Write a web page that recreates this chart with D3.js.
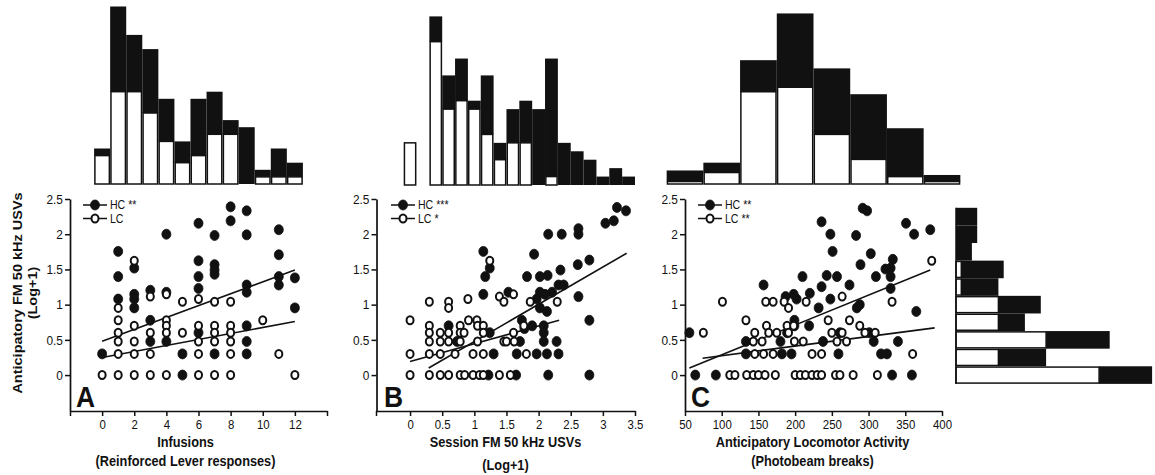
<!DOCTYPE html>
<html><head><meta charset="utf-8">
<script src="https://cdn.jsdelivr.net/npm/d3@7"></script>
<style>body{margin:0;background:#fff}svg{display:block}</style>
</head><body><svg id="c" width="1155" height="475"></svg>
<script>
// ---------------- DATA ----------------
const yTickValues = [0, 0.5, 1, 1.5, 2, 2.5];
const yTitle = ["Anticipatory FM 50 kHz USVs", "(Log+1)"];

const infusionTicks = [-2, 0, 2, 4, 6, 8, 10, 12, 14];
const sessionTicks = [-0.53, 0, 0.5, 1, 1.5, 2, 2.5, 3, 3.5];
const locomotorTicks = [50, 100, 150, 200, 250, 300, 350, 400];

// Panel A: Infusions vs anticipatory USVs
const A_HC = [[0,0.301],[1,1.756],[1,1.398],[1,1.079],[2,1.519],[2,1.146],[2,1.079],[2,0.954],
  [3,1.204],[3,0.778],[3,0.477],[4,2.0],[4,1.176],[4,0.477],[5,0.301],[5,0],
  [6,2.155],[6,1.623],[6,1.398],[6,1.230],[6,0.602],[7,1.982],[7,1.568],[7,1.491],[7,1.431],[7,0.301],
  [8,2.389],[8,2.190],[9,2.332],[9,1.991],[9,1.279],[9,1.176],[9,0.699],[9,0.477],[9,0.301],
  [11,2.064],[11,1.708],[11,1.398],[11,1.279],[12,1.380],[12,0.954]];
const A_LC = [[0,0],[1,0.954],[1,0.778],[1,0.602],[1,0.477],[1,0.301],[1,0],
  [2,1.623],[2,0.699],[2,0.477],[2,0.301],[2,0],[3,1.114],[3,0.602],[3,0.301],[3,0],
  [4,1.146],[4,0.778],[4,0.699],[4,0.602],[4,0],[5,1.041],[5,0.602],
  [6,1.079],[6,0.699],[6,0.477],[6,0.301],[6,0],[7,1.041],[7,0.699],[7,0.602],[7,0.477],[7,0],
  [8,1.041],[8,0.699],[8,0.602],[8,0.477],[8,0.301],[8,0],[10,0.778],[11,0.301],[12,0]];
const A_fitHC = [0.48, 0.0842, 0, 12];   // intercept, slope, xmin, xmax
const A_fitLC = [0.25, 0.0425, 0, 12];
const A_legend = ["HC **", "LC"];
const A_titles = ["Infusions", "(Reinforced Lever responses)"];

// Panel B: Session USVs vs anticipatory USVs
const B_HC = [[0.60,0.699],[0.73,0.477],[1.22,0],[1.14,1.756],[1.17,1.398],[1.24,1.519],[1.14,1.146],[1.24,0.602],[1.30,0.301],
  [1.53,1.176],[1.65,0],[1.66,0.301],[1.71,0.477],[1.74,0.778],[1.78,0.660],[1.82,1.398],[1.90,0.699],[1.93,1.716],
  [1.97,0.301],[1.97,1.079],[2.02,1.398],[2.02,1.176],[2.02,0.954],[2.08,0.699],[2.08,0.602],[2.08,0.477],[2.13,0.301],
  [2.10,1.146],[2.13,0.903],[2.14,1.415],[2.15,2.0],[2.15,0],[2.21,1.176],[2.28,0.477],[2.31,0.301],[2.31,1.279],
  [2.36,2.0],[2.39,1.279],[2.34,1.491],[2.62,2.079],[2.62,2.0],[2.61,1.568],[2.62,1.114],[2.79,0.778],[2.79,0],[2.79,1.633],
  [3.04,2.155],[3.17,2.190],[3.22,2.380],[3.36,2.332]];
const B_LC = [[0,0.778],[0,0.301],[0,0],[0.30,1.041],[0.30,0.699],[0.30,0.602],[0.30,0.477],[0.30,0.301],[0.30,0],
  [0.47,0.602],[0.47,0.477],[0.47,0.301],[0.47,0],[0.60,1.041],[0.60,0.954],[0.60,0.602],[0.60,0.477],[0.60,0],
  [0.70,0.301],[0.78,0.699],[0.78,0.602],[0.78,0.477],[0.78,0],[0.84,0.602],[0.85,0],[0.90,1.079],[0.91,0.778],[1.04,0.778],
  [0.98,0.301],[0.98,0],[1.05,0.699],[1.05,0.477],[1.08,0],[1.14,0.699],[1.14,0.602],[1.14,0.301],[1.14,0],
  [1.24,1.623],[1.39,1.114],[1.39,0],[1.46,1.041],[1.46,0.477],[1.50,0.477],[1.56,0],
  [1.61,1.146],[1.61,0.602],[1.62,0.477],[1.77,0.699],[1.81,0.301],[1.87,1.041],[2.29,1.041]];
const B_fitHC = [-0.053, 0.529, 0.29, 3.37];
const B_fitLC = [0.1925, 0.253, 0, 2.32];
const B_legend = ["HC ***", "LC *"];
const B_titles = ["Session FM 50 kHz USVs", "(Log+1)"];

// Panel C: Locomotor activity vs anticipatory USVs
const C_HC = [[56,0.602],[64,0],[92,0],[133,0.301],[133,0.477],[157,1.279],
  [180,0.477],[182,0.301],[187,1.114],[189,0.602],[195,0.301],[198,1.146],[199,0.778],[202,1.079],[199,0.699],
  [210,1.398],[220,1.161],[219,0.699],[232,0.954],[236,1.255],[236,2.176],[238,0.477],[248,2.0],[251,1.756],
  [243,1.415],[257,1.398],[248,1.079],[259,0.301],[261,0.602],[274,1.279],[283,1.982],[289,1.568],[284,0.954],[288,1.0],
  [292,2.369],[298,2.332],[303,1.724],[310,1.398],[307,0.477],[301,0.602],[317,0.301],[325,0.301],
  [323,1.505],[330,1.230],[333,1.643],[330,1.519],[330,1.398],[340,0.477],[332,0],[359,0],
  [351,2.155],[362,2.0],[384,2.064],[365,0.903]];
const C_LC = [[75,0.602],[101,1.041],[111,0],[118,0],[134,0],[143,0],[150,0],[159,0],[173,0],
  [133,0.778],[145,0.602],[143,0.477],[145,0.301],[155,0.477],[157,0.301],[160,1.041],[161,0.699],[164,0.602],
  [170,1.041],[170,0.301],[175,0.602],[185,1.041],[191,0.954],[189,0.699],[198,0.699],[199,0.477],[191,0.602],
  [211,0.477],[215,1.041],[223,0.301],[236,0.301],[200,0],[207,0],[214,0],[223,0],[230,0],[236,0],[255,0],[261,0],[279,0],[312,0],
  [245,0.778],[250,0.602],[257,0.477],[264,0.602],[264,1.114],[270,0.477],[274,0.778],[288,0.699],[295,0.602],[309,0.602],
  [332,1.041],[360,0.301],[386,1.623]];
const C_fitHC = [-0.137, 0.004238, 56, 384];
const C_fitLC = [0.1393, 0.001361, 74, 390];
const C_legend = ["HC **", "LC **"];
const C_titles = ["Anticipatory Locomotor Activity", "(Photobeam breaks)"];

// Marginal histograms (counts; LC stacked under HC)
const histA_bins = [0,1,2,3,4,5,6,7,8,9,10,11,12];
const histA_LC = [4,13,13,10,6,3,4,7,7,0,1,1,1];
const histA_HC = [1,12,8,9,6,3,8,6,2,8,1,4,2];

const histB_bins = [0,0.2,0.4,0.6,0.8,1.0,1.2,1.4,1.6,1.8,2.0,2.2,2.4,2.6,2.8,3.0,3.2,3.4];
const histB_LC = [5,0,17,9,10,9,6,3,5,5,0,1,0,0,0,0,0,0];
const histB_HC = [0,0,3,4,5,1,7,2,4,5,9,14,5,4,3,1,2,1];

const histC_bins = [50,100,150,200,250,300,350,400];
const histC_LC = [0.6,2.8,22.5,23.6,12.1,6.0,1.8,0.6];
const histC_HC = [2.7,2.4,7.7,18.0,16.1,15.9,11.8,1.6];

const histY_bins = [0,0.25,0.5,0.75,1.0,1.25,1.5,1.75,2.0,2.25];
const histY_LC = [27,8,17,8,8,1,1,0,0,0];
const histY_HC = [10,9,12,5,8,7,8,3,4,4];

// ---------------- DRAWING ----------------
const SX = 0.88;
const INK = "#111";
const FONT = "'Liberation Sans', Arial, Helvetica, sans-serif";
const svg = d3.select("#c");
const y = d3.scaleLinear().domain([-0.51, 2.5]).range([411, 199]);

function label(g, x, yy, str, size, weight, anchor, rot) {
  return g.append("text")
    .attr("transform", `translate(${x},${yy}) scale(${SX},1)` + (rot ? ` rotate(${rot})` : ""))
    .attr("font-family", FONT).attr("font-size", size).attr("font-weight", weight || "normal")
    .attr("text-anchor", anchor || "start").attr("fill", INK).text(str);
}

function dot(g, cx, cy, filled) {
  if (filled) {
    g.append("ellipse").attr("cx", cx).attr("cy", cy).attr("rx", 4.5).attr("ry", 5.0)
      .attr("fill", INK).attr("stroke", INK).attr("stroke-width", 0.8);
  } else {
    g.append("ellipse").attr("cx", cx).attr("cy", cy).attr("rx", 3.5).attr("ry", 4.0)
      .attr("fill", "#fff").attr("stroke", INK).attr("stroke-width", 2.0);
  }
}

function topHist(x, bins, width, lc, hc, base, unit) {
  const g = svg.append("g");
  bins.forEach((b, i) => {
    const x0 = x(b - width / 2), x1 = x(b + width / 2);
    const lh = lc[i] * unit, hh = hc[i] * unit;
    if (hh > 0) g.append("rect").attr("x", x0).attr("y", base - lh - hh).attr("width", x1 - x0).attr("height", hh)
      .attr("fill", INK);
    if (lh > 0) g.append("rect").attr("x", x0 + 0.8).attr("y", base - lh).attr("width", x1 - x0 - 1.6).attr("height", lh)
      .attr("fill", "#fff").attr("stroke", INK).attr("stroke-width", 1.5);
  });
}

function drawPanel(p) {
  const x = d3.scaleLinear().domain(p.xDomain).range(p.xRange);
  const g = svg.append("g");

  // regression lines
  [p.fitHC, p.fitLC].forEach(f => {
    g.append("line").attr("x1", x(f[2])).attr("y1", y(f[0] + f[1] * f[2]))
      .attr("x2", x(f[3])).attr("y2", y(f[0] + f[1] * f[3]))
      .attr("stroke", INK).attr("stroke-width", 1.6);
  });
  // points: HC then LC
  p.hc.forEach(d => dot(g, x(d[0]), y(d[1]), true));
  p.lc.forEach(d => dot(g, x(d[0]), y(d[1]), false));

  // axes
  const ya = g.append("g").attr("transform", `translate(${p.yAxisX},0)`)
    .call(d3.axisLeft(y).tickValues(yTickValues).tickFormat(d3.format("~g")).tickSize(5).tickSizeOuter(0).tickPadding(3));
  const xa = g.append("g").attr("transform", `translate(0,411)`)
    .call(d3.axisBottom(x).tickValues(p.ticks).tickFormat(d => p.hide.includes(d) ? "" : d3.format("~g")(d))
      .tickSize(5).tickSizeOuter(0).tickPadding(4));
  [ya, xa].forEach(a => {
    a.select(".domain").attr("stroke", INK).attr("stroke-width", 1.7);
    a.selectAll(".tick line").attr("stroke", INK).attr("stroke-width", 1.5);
    a.selectAll(".tick text").attr("font-family", FONT).attr("fill", INK);
  });
  ya.selectAll(".tick text").attr("font-size", 13.5).attr("transform", `scale(${SX},1)`);
  xa.selectAll(".tick text").attr("font-size", 13).attr("transform", `scale(${SX},1)`);

  // legend
  const lx = p.legendX;
  [[p.legend[0], 205, true], [p.legend[1], 218.5, false]].forEach(([t, ly, f]) => {
    g.append("line").attr("x1", lx).attr("x2", lx + 24).attr("y1", ly).attr("y2", ly).attr("stroke", INK).attr("stroke-width", 1.5);
    dot(g, lx + 12, ly, f);
    label(g, lx + 27, ly + 4.2, t, 12, "normal", "start");
  });

  // panel letter
  label(g, p.letterX, 407, p.letter, 30, "bold", "start");

  // x titles
  const cx = (p.xRange[0] + p.xRange[1]) / 2 + p.titleDx;
  label(g, cx, 447, p.titles[0], 14.5, "bold", "middle");
  label(g, cx, p.title2Y, p.titles[1], 14.5, "bold", "middle");
  return x;
}

const xA = drawPanel({xDomain: [-2, 14], xRange: [70, 327], yAxisX: 70, ticks: infusionTicks, hide: [-2, 14],
  hc: A_HC, lc: A_LC, fitHC: A_fitHC, fitLC: A_fitLC, legend: A_legend, legendX: 83, letter: "A", letterX: 76,
  titles: A_titles, titleDx: -13, title2Y: 466});
const xB = drawPanel({xDomain: [-0.53, 3.5], xRange: [376, 635], yAxisX: 376.5, ticks: sessionTicks, hide: [-0.53],
  hc: B_HC, lc: B_LC, fitHC: B_fitHC, fitLC: B_fitLC, legend: B_legend, legendX: 391, letter: "B", letterX: 384,
  titles: B_titles, titleDx: 0, title2Y: 470});
const xC = drawPanel({xDomain: [50, 400], xRange: [685, 942], yAxisX: 685, ticks: locomotorTicks, hide: [],
  hc: C_HC, lc: C_LC, fitHC: C_fitHC, fitLC: C_fitLC, legend: C_legend, legendX: 698, letter: "C", letterX: 691,
  titles: C_titles, titleDx: -1, title2Y: 466});

// y title
label(svg, 22, 293, yTitle[0], 14.5, "bold", "middle", -90);
label(svg, 37, 293, yTitle[1], 14.5, "bold", "middle", -90);

// top histograms
topHist(xA, histA_bins, 1, histA_LC, histA_HC, 184, 7.1);
topHist(xB, histB_bins, 0.2, histB_LC, histB_HC, 185, 8.43);
topHist(xC, histC_bins, 50, histC_LC, histC_HC, 184, 4.1);

// right histogram (distribution of anticipatory USVs)
(function () {
  const g = svg.append("g");
  const base = 956, unit = 5.3;
  histY_bins.forEach((b, i) => {
    const y0 = y(b + 0.125), y1 = y(b - 0.125);
    const lw = histY_LC[i] * unit, hw = histY_HC[i] * unit;
    if (hw > 0) g.append("rect").attr("x", base + lw).attr("y", y0).attr("width", hw).attr("height", y1 - y0).attr("fill", INK);
    if (lw > 0) g.append("rect").attr("x", base).attr("y", y0 + 0.8).attr("width", lw).attr("height", y1 - y0 - 1.6)
      .attr("fill", "#fff").attr("stroke", INK).attr("stroke-width", 1.5);
  });
  g.append("line").attr("x1", base).attr("x2", base).attr("y1", y(2.375)).attr("y2", y(-0.125))
    .attr("stroke", INK).attr("stroke-width", 1.5);
})();
</script></body></html>
